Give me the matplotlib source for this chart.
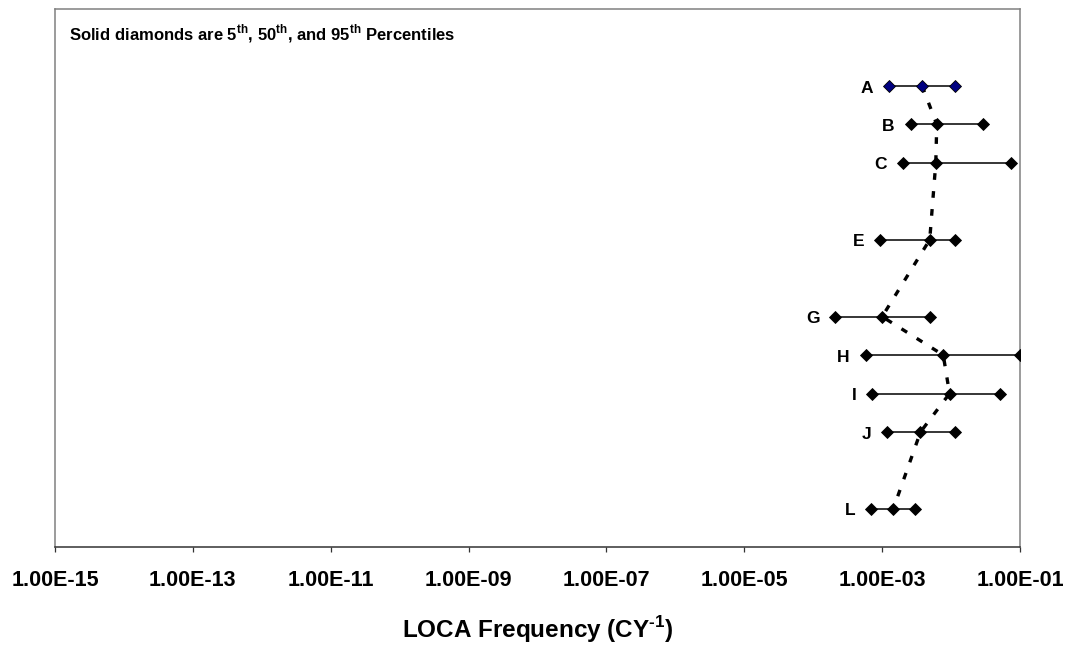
import numpy as np
import matplotlib

matplotlib.use("Agg")
import matplotlib.pyplot as plt
from matplotlib.ticker import FixedLocator, FuncFormatter, NullLocator

plt.rcParams["font.family"] = ["Liberation Sans", "DejaVu Sans"]
plt.rcParams["mathtext.fontset"] = "custom"
plt.rcParams["mathtext.rm"] = "Liberation Sans"
plt.rcParams["mathtext.bf"] = "Liberation Sans:bold"

# categories (all slots on the y axis) and the rows that have data
slots = list("ABCDEFGHIJKL")
rows = list("ABCEGHIJL")

# percentiles of LOCA frequency (per calendar year)
p05 = [1.25e-3, 2.6e-3, 2.0e-3, 9.3e-4, 2.1e-4, 5.8e-4, 7.2e-4, 1.18e-3, 6.9e-4]
p50 = [3.8e-3, 6.2e-3, 6.0e-3, 4.9e-3, 1.0e-3, 7.7e-3, 9.5e-3, 3.6e-3, 1.45e-3]
p95 = [1.15e-2, 2.9e-2, 7.4e-2, 1.15e-2, 4.9e-3, 1.0e-1, 5.1e-2, 1.15e-2, 2.95e-3]

xticks = [1e-15, 1e-13, 1e-11, 1e-9, 1e-7, 1e-5, 1e-3, 1e-1]

# row A is at the top, L at the bottom
ypos = np.array([len(slots) - slots.index(r) for r in rows], dtype=float)

fig = plt.figure(figsize=(10.72, 6.54), dpi=100)
ax = fig.add_axes([0.0513, 0.1631, 0.9002, 0.8231])

# dashed line through the medians
ax.plot(p50, ypos, linestyle=(0, (2.0, 3.4)), color="black", lw=2.4, zorder=1)

for i, r in enumerate(rows):
    fc = "#000080" if r == "A" else "black"
    ax.plot([p05[i], p50[i], p95[i]], [ypos[i]] * 3, "-", color="black", lw=1.1,
            marker="D", ms=5.8, mfc=fc, mec="black", mew=0.6, zorder=3)
    ax.annotate(r, (p05[i], ypos[i]), xytext=(-11.5, -1.5), textcoords="offset points",
                ha="right", va="center", fontsize=12.5, fontweight="bold")

ax.set_xscale("log")
ax.set_xlim(1e-15, 1e-1)
ax.set_ylim(0, 14)
ax.xaxis.set_major_locator(FixedLocator(xticks))
ax.xaxis.set_minor_locator(NullLocator())
ax.xaxis.set_major_formatter(FuncFormatter(lambda v, pos: f"{v:.2E}"))
ax.yaxis.set_major_locator(NullLocator())
ax.tick_params(axis="x", direction="out", length=3.8, width=0.9, color="#333333",
               pad=12.5, labelsize=15.5)
for lab in ax.get_xticklabels():
    lab.set_fontweight("bold")

for side in ("top", "left", "right"):
    ax.spines[side].set_color("#808080")
    ax.spines[side].set_linewidth(1.1)
ax.spines["bottom"].set_color("#333333")
ax.spines["bottom"].set_linewidth(1.1)

ax.set_xlabel("LOCA Frequency (CY$^{\\mathbf{\u2010}\\mathbf{1}}$)", fontsize=17.5,
              fontweight="bold", labelpad=17)

ax.text(0.0145, 0.955,
        r"Solid diamonds are 5$^{\mathbf{th}}$, 50$^{\mathbf{th}}$, and 95$^{\mathbf{th}}$ Percentiles",
        transform=ax.transAxes, ha="left", va="center", fontsize=12, fontweight="bold")

fig.savefig("out.png", dpi=100)
